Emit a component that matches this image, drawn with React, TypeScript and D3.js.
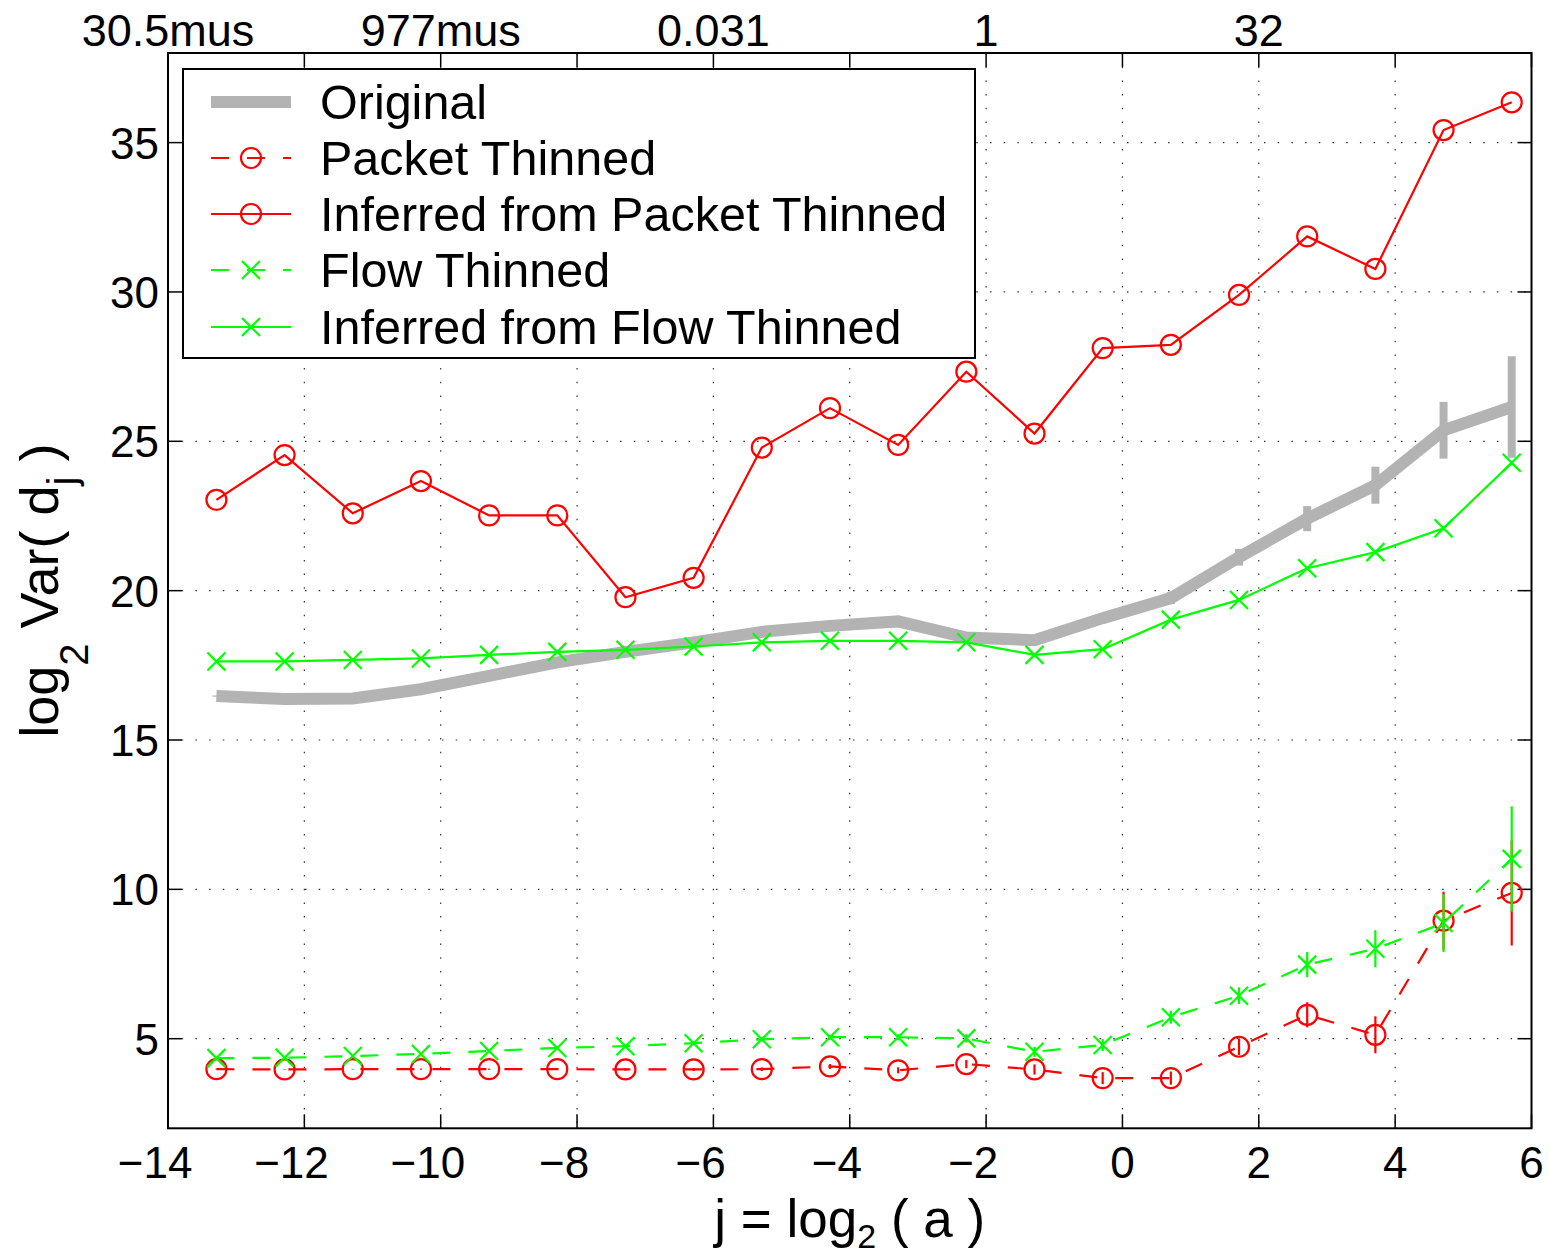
import React from "react";
import * as d3 from "d3";

const jValues = [-13.29, -12.29, -11.29, -10.29, -9.29, -8.29, -7.29, -6.29, -5.29, -4.29, -3.29, -2.29, -1.29, -0.29, 0.71, 1.71, 2.71, 3.71, 4.71, 5.71];
const original = [16.47, 16.37, 16.39, 16.7, 17.15, 17.6, 17.95, 18.27, 18.62, 18.82, 18.97, 18.43, 18.34, 19.08, 19.75, 21.12, 22.41, 23.53, 25.37, 26.15];
const originalErr = [0.02, 0.02, 0.02, 0.03, 0.03, 0.04, 0.05, 0.06, 0.07, 0.08, 0.1, 0.12, 0.14, 0.17, 0.2, 0.28, 0.42, 0.62, 0.95, 1.7];
const packetThinned = [3.98, 3.97, 3.98, 3.98, 3.98, 3.98, 3.97, 3.97, 3.98, 4.07, 3.94, 4.15, 3.97, 3.68, 3.68, 4.73, 5.8, 5.13, 8.95, 9.88];
const inferredPacket = [23.04, 24.54, 22.59, 23.67, 22.52, 22.52, 19.78, 20.43, 24.79, 26.11, 24.88, 27.33, 25.26, 28.12, 28.23, 29.9, 31.86, 30.77, 35.42, 36.35];
const flowThinned = [4.35, 4.36, 4.42, 4.49, 4.59, 4.69, 4.75, 4.85, 4.98, 5.05, 5.05, 5.01, 4.56, 4.79, 5.72, 6.44, 7.48, 8.01, 8.87, 11.02];
const inferredFlow = [17.63, 17.63, 17.68, 17.73, 17.85, 17.95, 18.02, 18.13, 18.27, 18.32, 18.32, 18.27, 17.85, 18.04, 19.03, 19.69, 20.75, 21.29, 22.09, 24.28];
const thinnedErr = [0.01, 0.01, 0.01, 0.02, 0.02, 0.03, 0.04, 0.05, 0.06, 0.08, 0.1, 0.14, 0.17, 0.2, 0.22, 0.28, 0.42, 0.62, 0.97, 1.76];

const xTicks = [-14, -12, -10, -8, -6, -4, -2, 0, 2, 4, 6];
const yTicks = [5, 10, 15, 20, 25, 30, 35];
const topTicks = [-14, -10, -6, -2, 2];
const topLabels = ["30.5mus", "977mus", "0.031", "1", "32"];
const legendLabels = ["Original", "Packet Thinned", "Inferred from Packet Thinned", "Flow Thinned", "Inferred from Flow Thinned"];

const W = 1549, H = 1258;
const L = 168, R = 1531.5, T = 53, B = 1128.3;
const FONT = "'Liberation Sans', Arial, Helvetica, sans-serif";
const GRAY = "#b3b3b3", RED = "#ff0000", GREEN = "#00ff00";
const TICK_FS = 44;

export default function App() {
  const x = d3.scaleLinear().domain([-14, 6]).range([L, R]);
  const y = d3.scaleLinear().domain([2, 38]).range([B, T]);
  const line = (vals: number[]) =>
    d3.line<number>().x((_, i) => x(jValues[i])).y((v) => y(v))(vals) || "";

  const tickLen = 14;
  const label = (v: number) => (v < 0 ? "\u2212" + Math.abs(v) : String(v));
  // MATLAB centres the digits on the tick, the minus sign hangs to the left
  const labelRight = (v: number) => x(v) + (String(Math.abs(v)).length * 0.556 * TICK_FS) / 2;

  const circle = (cx: number, cy: number, color: string, key: any) => (
    <circle key={key} cx={cx} cy={cy} r={10} fill="none" stroke={color} strokeWidth={2.2} />
  );
  const cross = (cx: number, cy: number, color: string, key: any) => (
    <path key={key} d={`M${cx - 9},${cy - 9}L${cx + 9},${cy + 9}M${cx - 9},${cy + 9}L${cx + 9},${cy - 9}`} stroke={color} strokeWidth={2.2} />
  );
  const errBars = (vals: number[], errs: number[], color: string, w: number, pre: string) =>
    vals.map((v, i) => (
      <line key={pre + i} x1={x(jValues[i])} x2={x(jValues[i])} y1={y(v - errs[i])} y2={y(v + errs[i])} stroke={color} strokeWidth={w} />
    ));

  const rowY = [102, 158, 214, 270, 327];
  const sx1 = 211, sx2 = 291, smid = 251;

  return (
    <svg width={W} height={H} style={{ position: "absolute", left: 0, top: 0, background: "#fff" }} fontFamily={FONT}>
      <rect x={0} y={0} width={W} height={H} fill="#fff" />
      {/* grid */}
      <g stroke="#333" strokeWidth={1.2} strokeDasharray="1.5,12.2">
        {xTicks.slice(1, -1).map((t) => (
          <line key={"gx" + t} x1={x(t)} x2={x(t)} y1={T} y2={B} />
        ))}
        {yTicks.map((t) => (
          <line key={"gy" + t} x1={L} x2={R} y1={y(t)} y2={y(t)} />
        ))}
      </g>
      {/* ticks */}
      <g stroke="#000" strokeWidth={1.5}>
        {xTicks.map((t) => (
          <g key={"tx" + t}>
            <line x1={x(t)} x2={x(t)} y1={B} y2={B - tickLen} />
            <line x1={x(t)} x2={x(t)} y1={T} y2={T + tickLen} />
          </g>
        ))}
        {yTicks.map((t) => (
          <g key={"ty" + t}>
            <line x1={L} x2={L + tickLen} y1={y(t)} y2={y(t)} />
            <line x1={R} x2={R - tickLen} y1={y(t)} y2={y(t)} />
          </g>
        ))}
      </g>
      {/* Original */}
      <path d={line(original)} fill="none" stroke={GRAY} strokeWidth={12} strokeLinejoin="miter" />
      {errBars(original, originalErr, GRAY, 8, "eo")}
      {/* Packet thinned */}
      <path d={line(packetThinned)} fill="none" stroke={RED} strokeWidth={2.2} strokeDasharray="18,18" />
      {errBars(packetThinned, thinnedErr, RED, 2.2, "ep")}
      {packetThinned.map((v, i) => circle(x(jValues[i]), y(v), RED, "cp" + i))}
      {/* Inferred from packet thinned */}
      <path d={line(inferredPacket)} fill="none" stroke={RED} strokeWidth={2.2} />
      {inferredPacket.map((v, i) => circle(x(jValues[i]), y(v), RED, "ci" + i))}
      {/* Flow thinned */}
      <path d={line(flowThinned)} fill="none" stroke={GREEN} strokeWidth={2.2} strokeDasharray="18,18" />
      {errBars(flowThinned, thinnedErr, GREEN, 2.2, "ef")}
      {flowThinned.map((v, i) => cross(x(jValues[i]), y(v), GREEN, "xf" + i))}
      {/* Inferred from flow thinned */}
      <path d={line(inferredFlow)} fill="none" stroke={GREEN} strokeWidth={2.2} />
      {inferredFlow.map((v, i) => cross(x(jValues[i]), y(v), GREEN, "xi" + i))}

      {/* axes box */}
      <rect x={L} y={T} width={R - L} height={B - T} fill="none" stroke="#000" strokeWidth={2} />

      {/* tick labels */}
      <g fontSize={TICK_FS} fill="#000">
        {xTicks.map((t) => (
          <text key={"lx" + t} x={labelRight(t)} y={1178} textAnchor="end">{label(t)}</text>
        ))}
        {yTicks.map((t) => (
          <text key={"ly" + t} x={159} y={y(t) + 16} textAnchor="end">{t}</text>
        ))}
        {topTicks.map((t, i) => (
          <text key={"lt" + t} x={x(t)} y={46} textAnchor="middle" fontSize={45}>{topLabels[i]}</text>
        ))}
      </g>

      {/* axis labels */}
      <text x={(L + R) / 2} y={1237} textAnchor="middle" fontSize={53} fill="#000">
        j = log<tspan fontSize={34} dy={11}>2</tspan><tspan dy={-11}> ( a )</tspan>
      </text>
      <text transform={`translate(58,${(T + B) / 2}) rotate(-90)`} textAnchor="middle" fontSize={54} fill="#000">
        log<tspan fontSize={40} dy={30}>2</tspan><tspan dy={-30}> Var( d</tspan><tspan fontSize={40} dy={18}>j</tspan><tspan dy={-18}> )</tspan>
      </text>

      {/* legend */}
      <rect x={183} y={69} width={792} height={289} fill="#fff" stroke="#000" strokeWidth={2} />
      <line x1={sx1} x2={sx2} y1={rowY[0]} y2={rowY[0]} stroke={GRAY} strokeWidth={12} />
      <line x1={sx1} x2={sx2} y1={rowY[1]} y2={rowY[1]} stroke={RED} strokeWidth={2.2} strokeDasharray="18,18" />
      {circle(smid, rowY[1], RED, "lc1")}
      <line x1={sx1} x2={sx2} y1={rowY[2]} y2={rowY[2]} stroke={RED} strokeWidth={2.2} />
      {circle(smid, rowY[2], RED, "lc2")}
      <line x1={sx1} x2={sx2} y1={rowY[3]} y2={rowY[3]} stroke={GREEN} strokeWidth={2.2} strokeDasharray="18,18" />
      {cross(smid, rowY[3], GREEN, "lx3")}
      <line x1={sx1} x2={sx2} y1={rowY[4]} y2={rowY[4]} stroke={GREEN} strokeWidth={2.2} />
      {cross(smid, rowY[4], GREEN, "lx4")}
      <g fontSize={48.5} fill="#000">
        {legendLabels.map((s, i) => (
          <text key={"leg" + i} x={320} y={rowY[i] + 17}>{s}</text>
        ))}
      </g>
    </svg>
  );
}
